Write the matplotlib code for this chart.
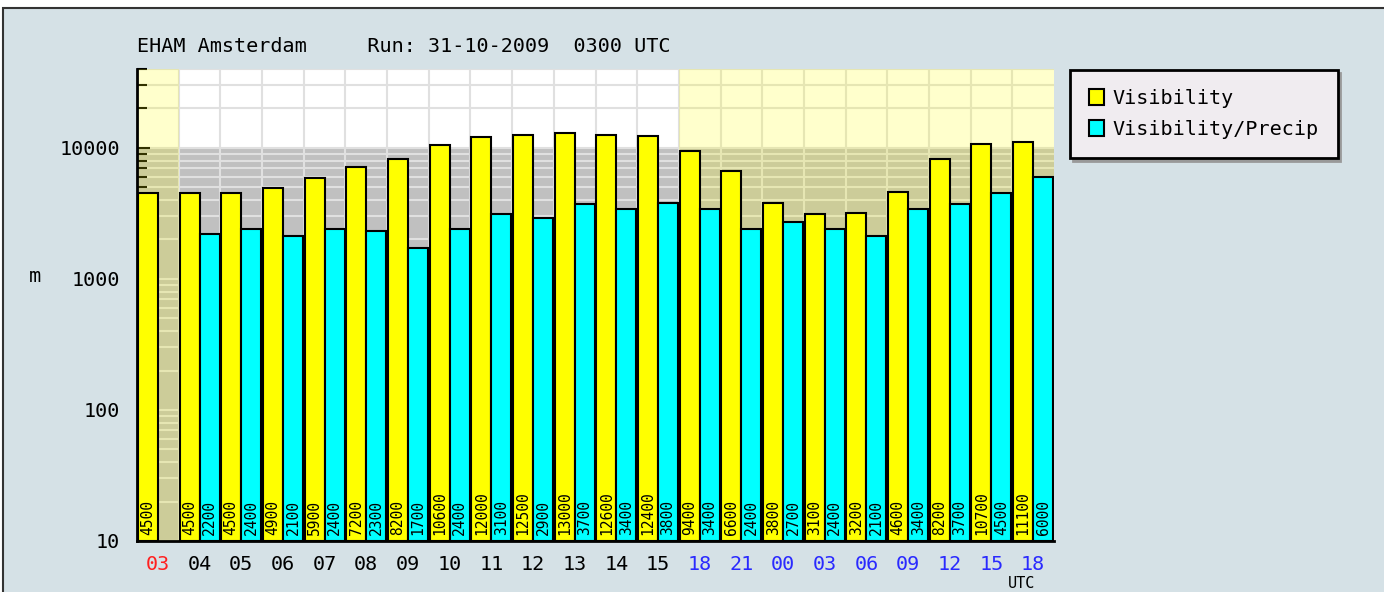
import matplotlib as mpl
mpl.use('Agg')
import matplotlib.pyplot as plt
import matplotlib.patches as mpatches
from matplotlib.ticker import FixedLocator, NullFormatter
import numpy as np

# data
hours = ['03', '04', '05', '06', '07', '08', '09', '10', '11', '12', '13', '14', '15',
         '18', '21', '00', '03', '06', '09', '12', '15', '18']
visibility = [4500, 4500, 4500, 4900, 5900, 7200, 8200, 10600, 12000, 12500, 13000,
              12600, 12400, 9400, 6600, 3800, 3100, 3200, 4600, 8200, 10700, 11100]
vis_precip = [np.nan, 2200, 2400, 2100, 2400, 2300, 1700, 2400, 3100, 2900, 3700,
              3400, 3800, 3400, 2400, 2700, 2400, 2100, 3400, 3700, 4500, 6000]
# hour label colour group: 0 = run hour, 1 = hourly, 2 = 3-hourly
label_kind = [0] + [1] * 12 + [2] * 9
# shaded (dark) columns
shaded = [1] + [0] * 12 + [1] * 9

title = "EHAM Amsterdam     Run: 31-10-2009  0300 UTC"
mono = 'DejaVu Sans Mono'
plt.rcParams.update({'font.family': mono, 'font.size': 14.5})

W, H = 1384, 592
fig = plt.figure(figsize=(W / 100, H / 100), dpi=100, facecolor='white')

# framed light-blue panel
frame = mpatches.Rectangle((3 / W, -0.1), 1.2, 1 - 8 / H + 0.1, transform=fig.transFigure,
                           facecolor='#d5e1e6', edgecolor='#333333', lw=1.5, zorder=-10)
fig.add_artist(frame)

left, right, bottom, top = 137 / W, 1054 / W, 1 - 541 / H, 1 - 69 / H
ax = fig.add_axes([left, bottom, right - left, top - bottom])
ax.set_facecolor('white')
ax.set_yscale('log')
ax.set_ylim(10, 40000)
ax.set_xlim(-0.5, len(hours) - 0.5)

x = np.arange(len(hours))

# background: grey band below 10 km, yellow tint on shaded columns
ax.axhspan(10, 10000, color='#c0c0c0', zorder=0.1, lw=0)
i = 0
while i < len(shaded):
    if shaded[i]:
        j = i
        while j + 1 < len(shaded) and shaded[j + 1]:
            j += 1
        ax.axvspan(i - 0.5, j + 0.5, color='#ffff00', alpha=0.2, lw=0, zorder=0.7)
        i = j + 1
    else:
        i += 1

# grid
ax.set_axisbelow(True)
ax.set_xticks(x)
ax.set_xticks(x[:-1] + 0.5, minor=True)
ax.xaxis.grid(True, which='minor', color='#e0e0e0', lw=1.5)
minors = [m * 10 ** d for d in range(1, 5) for m in range(2, 10)]
ax.yaxis.set_major_locator(FixedLocator([10, 100, 1000, 10000]))
ax.yaxis.set_minor_locator(FixedLocator(minors))
ax.yaxis.set_minor_formatter(NullFormatter())
ax.set_yticklabels(['10', '100', '1000', '10000'])
ax.yaxis.grid(True, which='both', color='#e0e0e0', lw=1.5)

# bars
bw = 0.48
ax.bar(x - bw, visibility, width=bw, bottom=10, align='edge', color='#ffff00',
       edgecolor='black', lw=1.5, zorder=2, label='Visibility')
ax.bar(x, vis_precip, width=bw, bottom=10, align='edge', color='#00ffff',
       edgecolor='black', lw=1.5, zorder=2, label='Visibility/Precip')

for xi, v in zip(x, visibility):
    ax.text(xi - bw / 2, 11.2, str(v), rotation=90, ha='center', va='bottom',
            fontsize=10.5, zorder=3)
for xi, v in zip(x, vis_precip):
    if not np.isnan(v):
        ax.text(xi + bw / 2, 11.2, str(int(v)), rotation=90, ha='center', va='bottom',
                fontsize=10.5, zorder=3)

# axes styling
for s in ['top', 'right']:
    ax.spines[s].set_visible(False)
for s in ['left', 'bottom']:
    ax.spines[s].set_linewidth(2)
    ax.spines[s].set_zorder(4)
ax.tick_params(axis='y', which='major', direction='in', length=9, width=1.5, pad=12,
               labelsize=14.5)
ax.tick_params(axis='y', which='minor', direction='in', length=7, width=1.5)
ax.tick_params(axis='x', which='both', length=0, pad=10, labelsize=14.5)
ax.set_xticklabels(hours)
kind_colors = {0: '#ff2020', 1: 'black', 2: '#2a2aff'}
for lab, k in zip(ax.get_xticklabels(), label_kind):
    lab.set_color(kind_colors[k])

# texts
fig.text(137 / W, 1 - 47 / H, title, ha='left', va='center', fontsize=14.5)
fig.text(35 / W, 1 - 276 / H, 'm', ha='center', va='center', fontsize=14.5)
fig.text(1022 / W, 1 / H, 'UTC', ha='center', va='bottom', fontsize=11)

# legend
leg = ax.legend(loc='upper left', bbox_to_anchor=(1070 / W, 1 - 70 / H),
                bbox_transform=fig.transFigure, fancybox=False,
                shadow={'color': '#999999', 'alpha': 1}, facecolor='#f0ecf0',
                edgecolor='black', framealpha=1, borderpad=0.95, handlelength=0.75,
                handleheight=0.85, handletextpad=0.4, labelspacing=0.6,
                borderaxespad=0, fontsize=14.5)
leg.get_frame().set_linewidth(2)

fig.savefig('out.png', dpi=100, facecolor='white')
